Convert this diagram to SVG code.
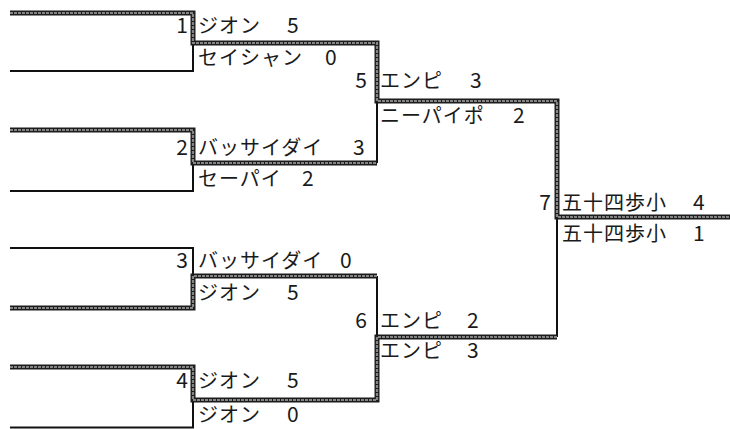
<svg xmlns="http://www.w3.org/2000/svg" width="730" height="429" viewBox="0 0 730 429">
<defs>
<style>
.bg{fill:#ffffff}
.thin{fill:none;stroke:#111;stroke-width:2}
.tk-o{fill:none;stroke:#1c1c1c;stroke-width:5;stroke-linejoin:miter}
.tk-i{fill:none;stroke:#858585;stroke-width:2.2;stroke-linejoin:miter;stroke-dasharray:3 1}
text{font-family:"Noto Sans CJK JP","Noto Sans",sans-serif;font-size:20px;fill:#1a1a1a;letter-spacing:1px}
.num{text-anchor:end;letter-spacing:0}
.sc{font-size:21px;letter-spacing:0}
</style>
</defs>
<rect class="bg" x="0" y="0" width="730" height="429"/>
<g id="connectors">
<path class="thin" d="M10,71 H193 V43"/>
<path class="thin" d="M10,191 H193 V163"/>
<path class="thin" d="M377,163 V101"/>
<path class="thin" d="M10,248 H193 V276"/>
<path class="thin" d="M10,427.5 H193 V400"/>
<path class="thin" d="M377,276 V337"/>
<path class="thin" d="M557,337 V217"/>
<path class="tk-o" d="M10,13 H193 V43 H377 V101 H557 V217 H730"/>
<path class="tk-o" d="M10,130 H193 V163 H377"/>
<path class="tk-o" d="M10,308 H193 V276 H377"/>
<path class="tk-o" d="M10,367 H193 V400 H377 V337 H557"/>
<path class="tk-i" d="M10,13 H193 V43 H377 V101 H557 V217 H730"/>
<path class="tk-i" d="M10,130 H193 V163 H377"/>
<path class="tk-i" d="M10,308 H193 V276 H377"/>
<path class="tk-i" d="M10,367 H193 V400 H377 V337 H557"/>
</g>
<g id="match-1">
<text class="num sc" x="188" y="33">1</text>
<text x="198" y="33">ジオン</text><text class="sc" x="287" y="33">5</text>
<text x="198" y="65">セイシャン</text><text class="sc" x="325" y="65">0</text>
</g>
<g id="match-2">
<text class="num sc" x="188" y="155">2</text>
<text x="198" y="155">バッサイダイ</text><text class="sc" x="353" y="155">3</text>
<text x="198" y="186">セーパイ</text><text class="sc" x="302" y="186">2</text>
</g>
<g id="match-3">
<text class="num sc" x="188" y="268">3</text>
<text x="198" y="268">バッサイダイ</text><text class="sc" x="340" y="268">0</text>
<text x="198" y="300">ジオン</text><text class="sc" x="287" y="300">5</text>
</g>
<g id="match-4">
<text class="num sc" x="188" y="388">4</text>
<text x="198" y="388">ジオン</text><text class="sc" x="287" y="388">5</text>
<text x="198" y="422">ジオン</text><text class="sc" x="287" y="422">0</text>
</g>
<g id="match-5">
<text class="num sc" x="367" y="88">5</text>
<text x="380" y="88">エンピ</text><text class="sc" x="470" y="88">3</text>
<text x="380" y="123">ニーパイポ</text><text class="sc" x="513" y="123">2</text>
</g>
<g id="match-6">
<text class="num sc" x="367" y="328">6</text>
<text x="380" y="328">エンピ</text><text class="sc" x="467" y="328">2</text>
<text x="380" y="358">エンピ</text><text class="sc" x="467" y="358">3</text>
</g>
<g id="match-7">
<text class="num sc" x="551" y="210">7</text>
<text x="562" y="210">五十四歩小</text><text class="sc" x="693" y="210">4</text>
<text x="562" y="241">五十四歩小</text><text class="sc" x="693" y="241">1</text>
</g>
</svg>
